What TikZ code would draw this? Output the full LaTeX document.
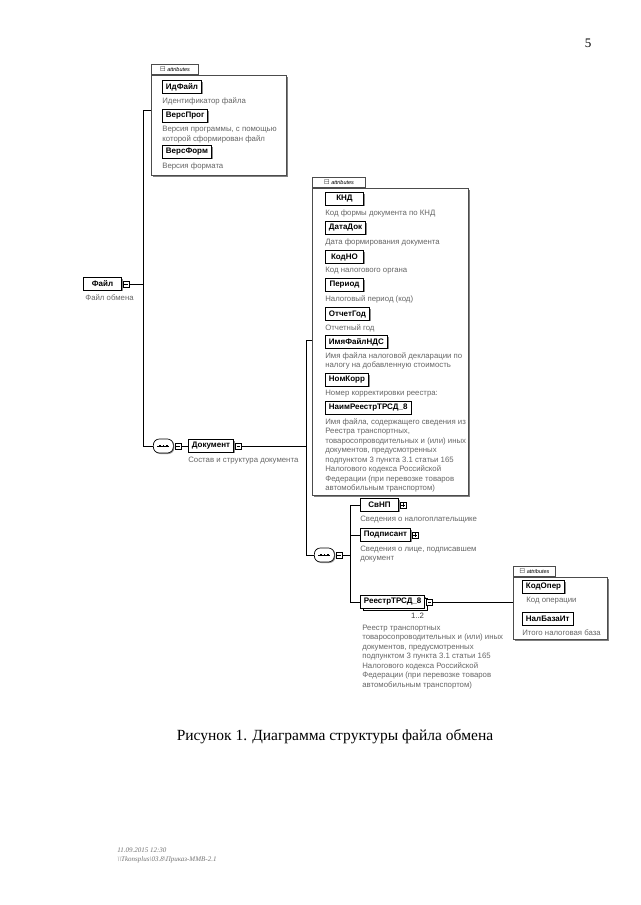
\documentclass[tikz,border=0pt]{standalone}
\usepackage{amssymb}
\usepackage{fontspec}
\setmainfont{Liberation Serif}
\setsansfont{Liberation Sans}
\usetikzlibrary{positioning,shadows}

\tikzset{
  elem/.style={draw, line width=0.9pt, fill=white, anchor=west, font=\sffamily\bfseries\fontsize{8}{9}\selectfont,
    minimum height=12.5pt, minimum width=38pt, inner xsep=3.5pt, inner ysep=0pt,
    drop shadow={shadow xshift=1.2pt, shadow yshift=-1.2pt, fill=black!45, opacity=1}},
  elemmulti/.style={elem, copy shadow={shadow xshift=2.5pt, shadow yshift=-2.5pt}},
  desc/.style={font=\sffamily\fontsize{7.8}{9.5}\selectfont, text=black!60, align=left, inner sep=0pt},
  iconminus/.style={draw, fill=white, minimum size=6pt, inner sep=0pt, line width=0.5pt,
    path picture={\draw ([xshift=1.2pt]path picture bounding box.west) -- ([xshift=-1.2pt]path picture bounding box.east);}},
  iconplus/.style={draw, fill=white, minimum size=6pt, inner sep=0pt, line width=0.5pt,
    path picture={\draw ([xshift=1.2pt]path picture bounding box.west) -- ([xshift=-1.2pt]path picture bounding box.east);
      \draw ([yshift=-1.2pt]path picture bounding box.north) -- ([yshift=1.2pt]path picture bounding box.south);}},
  seq/.style={draw, fill=white, anchor=west, rounded corners=6pt, minimum width=20pt, minimum height=14pt, inner sep=0pt,
    drop shadow={shadow xshift=1pt, shadow yshift=-1pt, fill=black!40, opacity=1},
    path picture={\draw[black, line width=0.6pt, sharp corners] ([xshift=4pt]path picture bounding box.west) -- ([xshift=-4pt]path picture bounding box.east);
      \foreach \dx in {-3.5,0,3.5} \fill[black, sharp corners] ([xshift=\dx pt]path picture bounding box.center) +(-0.7pt,-0.7pt) rectangle +(0.7pt,0.7pt);}},
  attrbox/.style={draw=black!70, fill=white, anchor=north west,
    drop shadow={shadow xshift=1.5pt, shadow yshift=-1.5pt, fill=black!50, opacity=1}},
  attrtab/.style={draw=black!70, fill=white, anchor=south west, minimum height=10pt, inner xsep=2pt, inner ysep=0pt,
    font=\sffamily\itshape\fontsize{5.5}{6}\selectfont},
  caption/.style={font=\fontsize{15.5}{18}\selectfont},
  footer/.style={font=\itshape\fontsize{7}{9}\selectfont, text=black!55, align=left, inner sep=0pt, anchor=north west}
}

\begin{document}
\begin{tikzpicture}[x=1pt, y=-1pt, line width=0.7pt]
  \fill[white] (0,0) rectangle (640,905);
  \useasboundingbox (0,0) rectangle (640,905);

  \node[font=\fontsize{13}{15}\selectfont] (pagenum) at (588,43) {5};

  \node[attrbox, minimum width=135pt, minimum height=100pt] (attrA) at (151,75) {};
  \node[attrtab, minimum width=47pt] (tabA) at (attrA.north west) {$\boxminus$ attributes};
  \node[elem] (idfajl) at (162,87) {ИдФайл};
  \node[desc, below right=3.5pt and 0pt of idfajl.south west] (idfajld) {Идентификатор файла};
  \node[elem] (versprog) at (162,116) {ВерсПрог};
  \node[desc, below right=3.5pt and 0pt of versprog.south west] (versprogd) {Версия программы, с помощью\\которой сформирован файл};
  \node[elem] (versform) at (162,152) {ВерсФорм};
  \node[desc, below right=3.5pt and 0pt of versform.south west] (versformd) {Версия формата};

  \node[elem] (fajl) at (83,284) {Файл};
  \node[iconminus, right=1pt of fajl] (fajlpm) {};
  \node[desc, below right=3.5pt and 2pt of fajl.south west] (fajld) {Файл обмена};

  \node[seq] (seqA) at (153,446) {};
  \node[iconminus, right=1pt of seqA] (seqApm) {};
  \node[elem] (dok) at (188,446) {Документ};
  \node[iconminus, right=1pt of dok] (dokpm) {};
  \node[desc, below right=3.5pt and 0pt of dok.south west] (dokd) {Состав и структура документа};

  \coordinate (forkAtop) at (143,110);
  \coordinate (forkAbot) at (143,446);
  \draw (fajlpm.east) -- (fajlpm.east -| forkAtop);
  \draw (forkAtop) -- (forkAbot);
  \draw (forkAtop) -- (forkAtop -| attrA.west);
  \draw (forkAbot) -- (seqA.west);
  \draw (seqApm.east) -- (dok.west);

  \node[attrbox, minimum width=156pt, minimum height=307pt] (attrB) at (312,188) {};
  \node[attrtab, minimum width=53pt] (tabB) at (attrB.north west) {$\boxminus$ attributes};
  \node[elem] (knd) at (325,199) {КНД};
  \node[desc, below right=3.5pt and 0pt of knd.south west] (kndd) {Код формы документа по КНД};
  \node[elem] (datadok) at (325,228) {ДатаДок};
  \node[desc, below right=3.5pt and 0pt of datadok.south west] (datadokd) {Дата формирования документа};
  \node[elem] (kodno) at (325,257) {КодНО};
  \node[desc, below right=3.5pt and 0pt of kodno.south west] (kodnod) {Код налогового органа};
  \node[elem] (period) at (325,285) {Период};
  \node[desc, below right=3.5pt and 0pt of period.south west] (periodd) {Налоговый период (код)};
  \node[elem] (otchgod) at (325,314) {ОтчетГод};
  \node[desc, below right=3.5pt and 0pt of otchgod.south west] (otchgodd) {Отчетный год};
  \node[elem] (imjafnds) at (325,342) {ИмяФайлНДС};
  \node[desc, below right=3.5pt and 0pt of imjafnds.south west] (imjafndsd) {Имя файла налоговой декларации по\\налогу на добавленную стоимость};
  \node[elem] (nomkorr) at (325,380) {НомКорр};
  \node[desc, below right=3.5pt and 0pt of nomkorr.south west] (nomkorrd) {Номер корректировки реестра:};
  \node[elem] (naimreestr) at (325,408) {НаимРеестрТРСД\_8};
  \node[desc, below right=3.5pt and 0pt of naimreestr.south west] (naimreestrd) {Имя файла, содержащего сведения из\\Реестра транспортных,\\товаросопроводительных и (или) иных\\документов, предусмотренных\\подпунктом 3 пункта 3.1 статьи 165\\Налогового кодекса Российской\\Федерации (при перевозке товаров\\автомобильным транспортом)};

  \node[seq] (seqB) at (314,555) {};
  \node[iconminus, right=1pt of seqB] (seqBpm) {};

  \coordinate (forkBtop) at (306,340);
  \coordinate (forkBbot) at (306,555);
  \draw (dokpm.east) -- (dokpm.east -| forkBtop);
  \draw (forkBtop) -- (forkBbot);
  \draw (forkBtop) -- (forkBtop -| attrB.west);
  \draw (forkBbot) -- (seqB.west);

  \node[elem] (svnp) at (360,505) {СвНП};
  \node[iconplus, right=1pt of svnp] (svnppm) {};
  \node[desc, below right=3.5pt and 0pt of svnp.south west] (svnpd) {Сведения о налогоплательщике};
  \node[elem] (podpisant) at (360,535) {Подписант};
  \node[iconplus, right=1pt of podpisant] (podpisantpm) {};
  \node[desc, below right=3.5pt and 0pt of podpisant.south west] (podpisantd) {Сведения о лице, подписавшем\\документ};
  \node[elemmulti] (reestr) at (360,602) {РеестрТРСД\_8};
  \node[iconminus, right=1pt of reestr] (reestrpm) {};
  \node[desc, text=black!75, below left=4pt and 1pt of reestr.south east] (reestrmult) {1..2};
  \node[desc, below right=16pt and 2pt of reestr.south west] (reestrd) {Реестр транспортных\\товаросопроводительных и (или) иных\\документов, предусмотренных\\подпунктом 3 пункта 3.1 статьи 165\\Налогового кодекса Российской\\Федерации (при перевозке товаров\\автомобильным транспортом)};

  \coordinate (forkCtop) at (350,505);
  \coordinate (forkCbot) at (350,602);
  \draw (seqBpm.east) -- (seqBpm.east -| forkCtop);
  \draw (forkCtop) -- (forkCbot);
  \draw (forkCtop) -- (svnp.west);
  \draw (podpisant.west -| forkCtop) -- (podpisant.west);
  \draw (forkCbot) -- (reestr.west);

  \node[attrbox, minimum width=94pt, minimum height=62pt] (attrC) at (513,577) {};
  \node[attrtab, minimum width=42pt] (tabC) at (attrC.north west) {$\boxminus$ attributes};
  \node[elem] (kodoper) at (522,587) {КодОпер};
  \node[desc, below right=3.5pt and 4pt of kodoper.south west] (kodoperd) {Код операции};
  \node[elem] (nalbaza) at (522,619) {НалБазаИт};
  \node[desc, below right=3.5pt and 0pt of nalbaza.south west] (nalbazad) {Итого налоговая база};
  \draw (reestrpm.east) -- (reestrpm.east -| attrC.west);

  \node[caption] (capt) at (335,737) {Рисунок 1. Диаграмма структуры файла обмена};

  \node[footer] (foot) at (117,847) {11.09.2015 12:30\\\textbackslash\textbackslash Tkonsplus\textbackslash 03.8\textbackslash Приказ-ММВ-2.1};
\end{tikzpicture}
\end{document}
